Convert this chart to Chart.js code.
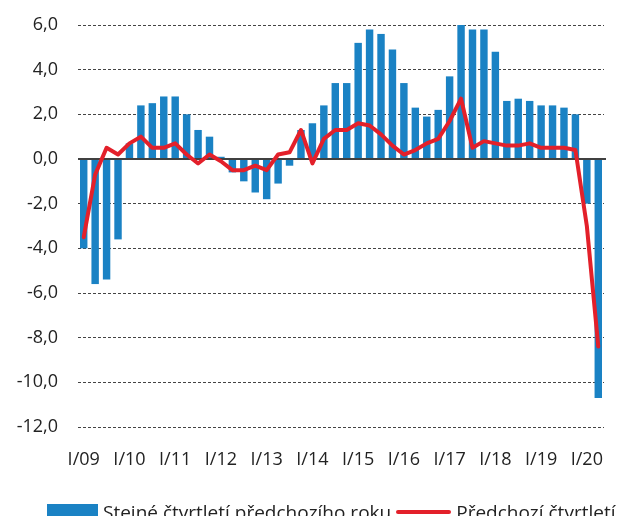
<!DOCTYPE html>
<html>
<head>
<meta charset="utf-8">
<script src="https://cdn.jsdelivr.net/npm/chart.js@4.4.0/dist/chart.umd.min.js"></script>
<style>
html, body { margin: 0; padding: 0; background: #fff; overflow: hidden; }
#obal { position: relative; width: 636px; height: 516px; }
#legenda {
    position: absolute; left: 47px; top: 500px; height: 24px;
    display: flex; align-items: center; white-space: nowrap;
    font-family: 'Open Sans', sans-serif; font-size: 19px; color: #222;
}
#legenda .polozka { display: flex; align-items: center; margin-right: 5px; }
#legenda .znacka { margin-right: 5px; }
</style>
</head>
<body>
<div id="obal">
    <canvas id="grafHdp"></canvas>
    <div id="legenda"></div>
</div>
<script>
// roky a ctvrtleti (osa x)
var roky = ['09', '10', '11', '12', '13', '14', '15', '16', '17', '18', '19', '20'];
var ctvrtleti = ['I', 'II', 'III', 'IV'];
var popiskyX = ['I/09', 'I/10', 'I/11', 'I/12', 'I/13', 'I/14', 'I/15', 'I/16', 'I/17', 'I/18', 'I/19', 'I/20'];
var hodnotyY = [-12, -10, -8, -6, -4, -2, 0, 2, 4, 6];

// stejne ctvrtleti predchoziho roku (sloupce)
var mezirocne = [
    -4.0, -5.6, -5.4, -3.6,
    0.7, 2.4, 2.5, 2.8,
    2.8, 2.0, 1.3, 1.0,
    0.1, -0.6, -1.0, -1.5,
    -1.8, -1.1, -0.3, 1.3,
    1.6, 2.4, 3.4, 3.4,
    5.2, 5.8, 5.6, 4.9,
    3.4, 2.3, 1.9, 2.2,
    3.7, 6.0, 5.8, 5.8,
    4.8, 2.6, 2.7, 2.6,
    2.4, 2.4, 2.3, 2.0,
    -2.0, -10.7
];

// predchozi ctvrtleti (cara)
var mezictvrtletne = [
    -3.5, -0.7, 0.5, 0.2,
    0.7, 1.0, 0.5, 0.5,
    0.7, 0.2, -0.2, 0.2,
    -0.1, -0.5, -0.5, -0.3,
    -0.5, 0.2, 0.3, 1.3,
    -0.2, 0.9, 1.3, 1.3,
    1.6, 1.5, 1.1, 0.6,
    0.2, 0.4, 0.7, 0.9,
    1.7, 2.7, 0.5, 0.8,
    0.7, 0.6, 0.6, 0.7,
    0.5, 0.5, 0.5, 0.4,
    -3.0, -8.4
];

var kategorie = [];
roky.forEach(function (r) {
    ctvrtleti.forEach(function (q) {
        if (kategorie.length < mezirocne.length) kategorie.push(q + '/' + r);
    });
});

var pismo = "'Open Sans', sans-serif";
var modra = '#1a82c4';
var cervena = '#e3202a';

// plna nulova osa pres sloupce
var nulovaOsa = {
    id: 'nulovaOsa',
    afterDatasetDraw: function (chart, args) {
        if (args.index !== 0) return;
        var y = chart.scales.y.getPixelForValue(0);
        var a = chart.chartArea;
        var c = chart.ctx;
        c.save();
        c.strokeStyle = '#404040';
        c.lineWidth = 2;
        c.beginPath();
        c.moveTo(a.left, y);
        c.lineTo(a.right + 2, y);
        c.stroke();
        c.restore();
    }
};

var ctx = document.getElementById('grafHdp').getContext('2d');
var chart = new Chart(ctx, {
    type: 'bar',
    data: {
        labels: kategorie,
        datasets: [{
            label: 'Stejné čtvrtletí předchozího roku',
            data: mezirocne,
            backgroundColor: modra,
            borderWidth: 0,
            categoryPercentage: 1,
            barPercentage: 0.65,
            order: 1
        }, {
            type: 'line',
            label: 'Předchozí čtvrtletí',
            data: mezictvrtletne,
            borderColor: cervena,
            backgroundColor: cervena,
            borderWidth: 4,
            borderJoinStyle: 'round',
            borderCapStyle: 'round',
            pointRadius: 0,
            tension: 0,
            order: 0
        }]
    },
    options: {
        responsive: true,
        maintainAspectRatio: false,
        animation: false,
        layout: {
            padding: { left: 0, right: 32, top: 25, bottom: 0 }
        },
        scales: {
            x: {
                grid: { display: false },
                border: { display: false },
                ticks: {
                    autoSkip: false,
                    maxRotation: 0,
                    padding: 14,
                    color: '#222',
                    font: { family: pismo, size: 18 },
                    callback: function (v, i) {
                        var t = kategorie[i];
                        return popiskyX.indexOf(t) >= 0 ? t : '';
                    }
                },
                afterFit: function (s) { s.height = 89; }
            },
            y: {
                min: -12,
                max: 6,
                afterBuildTicks: function (s) {
                    s.ticks = hodnotyY.map(function (v) { return { value: v }; });
                },
                grid: {
                    drawTicks: false,
                    color: function (c) { return c.tick && c.tick.value === 0 ? 'rgba(0,0,0,0)' : '#444'; },
                    lineWidth: 1
                },
                border: { display: false, dash: [3, 2] },
                ticks: {
                    padding: 20,
                    color: '#222',
                    font: { family: pismo, size: 18 },
                    callback: function (v) { return v.toFixed(1).replace('.', ','); }
                },
                afterFit: function (s) {
                    s.width = 78;
                    s.paddingTop = 0;
                    s.paddingBottom = 0;
                }
            }
        },
        plugins: {
            legend: { display: false },
            tooltip: { enabled: false }
        }
    },
    plugins: [nulovaOsa]
});

// legenda pod grafem
var legenda = document.getElementById('legenda');
chart.data.datasets.forEach(function (ds, i) {
    var polozka = document.createElement('span');
    polozka.className = 'polozka';
    var znacka = document.createElement('span');
    znacka.className = 'znacka';
    if (i === 0) {
        znacka.style.cssText = 'display:inline-block;width:51px;height:16px;background:' + ds.backgroundColor;
    } else {
        znacka.style.cssText = 'display:inline-block;width:55px;height:4px;border-radius:2px;background:' + ds.borderColor;
    }
    polozka.appendChild(znacka);
    polozka.appendChild(document.createTextNode(ds.label));
    legenda.appendChild(polozka);
});
</script>
</body>
</html>
